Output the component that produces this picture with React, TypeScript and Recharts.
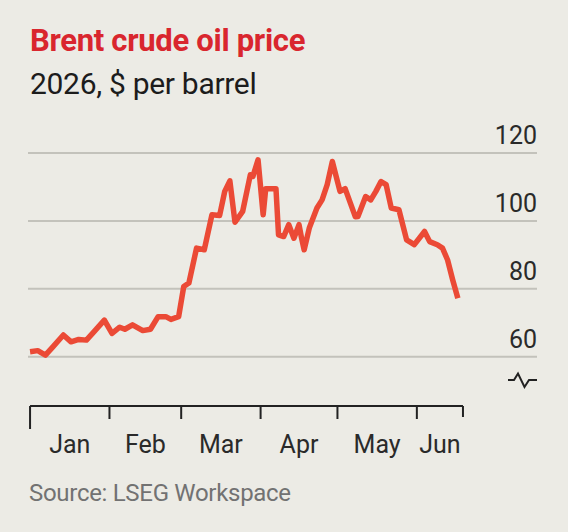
import { CartesianGrid, Line, LineChart, ReferenceLine, XAxis, YAxis } from "recharts";

// day 0 = Jan 1st 2026
const days = [
  0, 3, 6, 9, 13, 16, 19, 22, 25, 29, 32, 35, 37, 40, 44, 47, 50, 53, 55, 58,
  60, 62, 65, 68, 71, 74, 76, 78, 80, 83, 86, 87, 89, 91, 92, 96, 97, 99, 101, 103,
  105, 106, 107, 109, 112, 114, 116, 118, 121, 123, 127, 128, 131, 133, 135, 137, 139, 141, 144, 147,
  150, 154, 156, 159, 161, 163, 165, 167,
];
const prices = [
  61.5, 61.8, 60.5, 63.0, 66.4, 64.4, 65.1, 64.9, 67.4, 70.8, 66.9, 68.7, 68.1, 69.4, 67.7, 68.1, 71.8, 71.8, 71.0, 71.8,
  80.7, 81.7, 92.0, 91.5, 101.8, 101.6, 108.7, 111.8, 99.6, 102.8, 113.6, 113.1, 118.0, 101.8, 109.5, 109.5, 95.9, 95.4, 98.9, 94.9,
  98.9, 94.9, 91.5, 97.9, 103.8, 106.2, 110.7, 117.5, 108.7, 109.5, 101.2, 101.3, 107.2, 106.2, 108.7, 111.6, 110.7, 103.8, 103.3, 94.4,
  93.0, 96.9, 93.9, 93.0, 92.0, 88.5, 82.6, 77.2,
];

const monthStarts = [0, 31, 59, 90, 120, 151, 169];
const monthMids = [15.5, 45, 74.5, 105, 135.5, 160];
const monthNames = ["Jan", "Feb", "Mar", "Apr", "May", "Jun"];
const yTicks = [60, 80, 100, 120];

const data = days.map((d, i) => ({ d, p: prices[i] }));

const FONT = "Roboto, 'Noto Sans', sans-serif";
const Y_MIN = 45.5;

function MonthTick({ x, y, payload }: any) {
  const v = payload.value;
  const len = v === 0 ? 23 : v === 169 ? 11 : 13;
  return <line x1={x} x2={x} y1={y} y2={y + len} stroke="#222" strokeWidth={2} />;
}

function MonthLabel({ x, y, payload }: any) {
  const i = monthMids.indexOf(payload.value);
  return (
    <text x={x} y={y + 17} textAnchor="middle" fontSize={25} fontFamily={FONT} fill="#2a2a2a">
      {monthNames[i]}
    </text>
  );
}

function PriceTick({ x, y, payload }: any) {
  return (
    <text x={x} y={y - 9} textAnchor="end" fontSize={25} fontFamily={FONT} fill="#2a2a2a">
      {payload.value}
    </text>
  );
}

export default function App() {
  return (
    <div
      style={{
        position: "absolute",
        left: 0,
        top: 0,
        width: 568,
        height: 532,
        background: "#ECEBE5",
        fontFamily: FONT,
        overflow: "hidden",
      }}
    >
      <div style={{ position: "absolute", left: 30, top: 25, fontSize: 31, lineHeight: "31px", fontWeight: 700, color: "#D9262E", letterSpacing: -0.3 }}>
        Brent crude oil price
      </div>
      <div style={{ position: "absolute", left: 30, top: 69, fontSize: 30, lineHeight: "30px", color: "#1c1c1c", letterSpacing: -0.3 }}>
        2026, $ per barrel
      </div>
      <div style={{ position: "absolute", left: 29, top: 481, fontSize: 24, lineHeight: "24px", color: "#727272", letterSpacing: -0.3 }}>
        Source: LSEG Workspace
      </div>

      <div style={{ position: "absolute", left: 0, top: 0 }}>
        <LineChart width={568} height={532} data={data} margin={{ top: 153, right: 0, bottom: 46, left: 28 }}>
          <CartesianGrid vertical={false} horizontalValues={yTicks} stroke="#c3c2bb" strokeWidth={2} />
          <XAxis
            dataKey="d"
            type="number"
            domain={[-0.8, 197.9]}
            ticks={monthStarts}
            interval={0}
            axisLine={false}
            tickLine={false}
            tickSize={0}
            tickMargin={0}
            height={30}
            tick={<MonthTick />}
          />
          <XAxis
            xAxisId="lab"
            dataKey="d"
            type="number"
            domain={[-0.8, 197.9]}
            ticks={monthMids}
            interval={0}
            axisLine={false}
            tickLine={false}
            tickSize={0}
            tickMargin={0}
            height={50}
            tick={<MonthLabel />}
          />
          <YAxis
            orientation="right"
            type="number"
            domain={[Y_MIN, 120]}
            ticks={yTicks}
            interval={0}
            axisLine={false}
            tickLine={false}
            tickSize={0}
            tickMargin={0}
            width={31}
            tick={<PriceTick />}
          />
          <ReferenceLine
            segment={[
              { x: 0, y: Y_MIN },
              { x: 169, y: Y_MIN },
            ]}
            stroke="#222"
            strokeWidth={2}
            ifOverflow="visible"
          />
          <Line
            type="linear"
            dataKey="p"
            stroke="#EB4A36"
            strokeWidth={5.5}
            strokeLinejoin="round"
            dot={false}
            isAnimationActive={false}
          />
        </LineChart>
      </div>

      <svg width={568} height={532} style={{ position: "absolute", left: 0, top: 0, pointerEvents: "none" }}>
        <path d="M508 380 H514 L518 373.5 L524.5 387 L529 380 H537" fill="none" stroke="#222" strokeWidth={2} />
      </svg>
    </div>
  );
}
